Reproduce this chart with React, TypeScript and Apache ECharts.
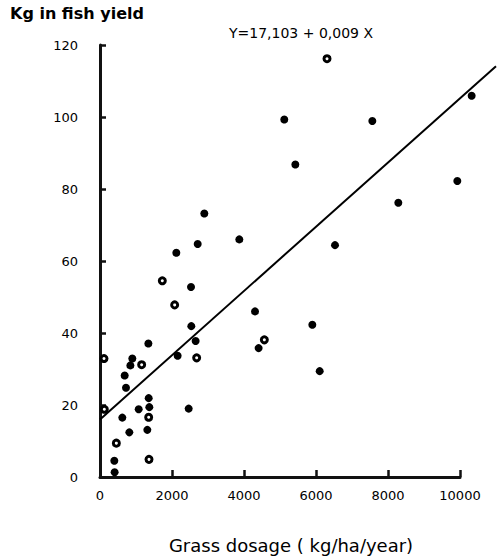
import React, { useEffect, useRef } from "react";
import * as echarts from "echarts";

const yTitle = "Kg in fish yield";
const xTitle = "Grass dosage ( kg/ha/year)";
const equation = "Y=17,103 + 0,009 X";

// grass dosage (kg/ha/year), fish yield (kg)
const filledPoints: [number, number][] = [
  [5119, 99.3], [7565, 98.9], [5426, 86.8], [10324, 105.9], [9926, 82.2],
  [8287, 76.2], [6528, 64.4], [4306, 46.0], [5898, 42.3], [4407, 35.8],
  [6102, 29.4], [2898, 73.2], [3870, 66.0], [2713, 64.7], [2120, 62.3],
  [2528, 52.8], [2537, 41.9], [2657, 37.8], [1343, 37.1], [2157, 33.7],
  [898, 32.9], [843, 31.0], [685, 28.2], [722, 24.8], [1352, 21.9],
  [1370, 19.4], [1074, 18.8], [2463, 19.0], [620, 16.5], [815, 12.4],
  [1315, 13.1], [398, 4.5], [407, 1.3],
];

const openPoints: [number, number][] = [
  [6306, 116.2], [2074, 47.8], [1731, 54.5], [2685, 33.1], [1157, 31.2],
  [111, 32.9], [120, 18.8], [4565, 38.1], [1352, 16.6], [454, 9.4], [1361, 4.9],
];

// regression line as drawn
const fitLine: [number, number][] = [
  [0, 16.0],
  [11000, 114.1],
];

const X_MAX_AXIS = 10000;
const X_MAX_PLOT = 11028;
const Y_MAX = 120;
const FONT = "DejaVu Sans";

export default function App() {
  const ref = useRef<HTMLDivElement>(null);
  useEffect(() => {
    const chart = echarts.init(ref.current!, null, { renderer: "svg" });
    chart.setOption({
      animation: false,
      grid: [
        { left: 100, right: 37, top: 45, bottom: 80 },
        { left: 100, right: 0, top: 45, bottom: 80 },
      ],
      xAxis: [
        {
          gridIndex: 0,
          type: "value",
          min: 0,
          max: X_MAX_AXIS,
          interval: 2000,
          splitLine: { show: false },
          axisLine: { show: true, onZero: false, lineStyle: { color: "#111", width: 3 } },
          axisTick: { show: true, inside: true, length: 7, lineStyle: { color: "#111", width: 2.5 } },
          axisLabel: {
            color: "#000",
            fontFamily: FONT,
            fontSize: 13,
            margin: 12,
            formatter: (v: number) => String(v),
          },
        },
        {
          gridIndex: 1,
          type: "value",
          min: 0,
          max: X_MAX_PLOT,
          show: false,
          splitLine: { show: false },
        },
      ],
      yAxis: [
        {
          gridIndex: 0,
          type: "value",
          min: 0,
          max: Y_MAX,
          interval: 20,
          splitLine: { show: false },
          axisLine: { show: true, onZero: false, lineStyle: { color: "#111", width: 3 } },
          axisTick: { show: true, inside: true, length: 6, lineStyle: { color: "#111", width: 2.5 } },
          axisLabel: { color: "#000", fontFamily: FONT, fontSize: 13, margin: 22 },
        },
        {
          gridIndex: 1,
          type: "value",
          min: 0,
          max: Y_MAX,
          show: false,
          splitLine: { show: false },
        },
      ],
      graphic: [
        {
          type: "text",
          left: 10,
          top: 5,
          style: { text: yTitle, fill: "#000", font: `bold 16px "${FONT}"` },
        },
        {
          type: "text",
          x: 301,
          y: 33,
          style: {
            text: equation,
            fill: "#000",
            font: `14px "${FONT}"`,
            textAlign: "center",
            textVerticalAlign: "middle",
          },
        },
        {
          type: "text",
          x: 291,
          y: 545,
          style: {
            text: xTitle,
            fill: "#000",
            font: `18px "${FONT}"`,
            textAlign: "center",
            textVerticalAlign: "middle",
          },
        },
      ],
      series: [
        {
          type: "line",
          xAxisIndex: 1,
          yAxisIndex: 1,
          data: fitLine,
          symbol: "none",
          lineStyle: { color: "#000", width: 2 },
          z: 1,
        },
        {
          type: "scatter",
          xAxisIndex: 1,
          yAxisIndex: 1,
          data: filledPoints,
          symbol: "circle",
          symbolSize: 8,
          itemStyle: { color: "#000", opacity: 1 },
          z: 2,
        },
        {
          type: "scatter",
          xAxisIndex: 1,
          yAxisIndex: 1,
          data: openPoints,
          symbol: "circle",
          symbolSize: 6,
          itemStyle: { color: "#fff", borderColor: "#000", borderWidth: 3, opacity: 1 },
          z: 2,
        },
      ],
    });
    return () => chart.dispose();
  }, []);
  return (
    <div
      ref={ref}
      style={{ position: "fixed", left: 0, top: 0, width: 497, height: 557, background: "#fff" }}
    />
  );
}
